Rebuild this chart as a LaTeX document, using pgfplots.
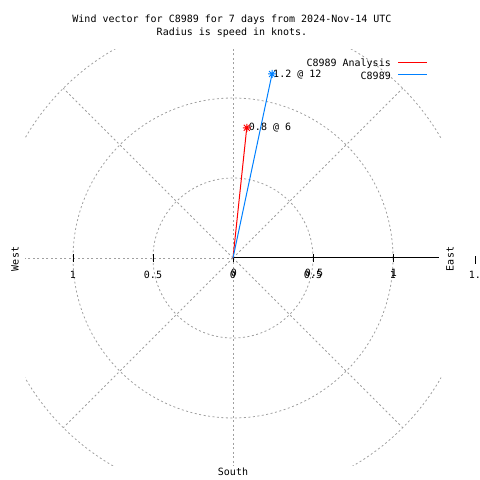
\documentclass[border=0pt]{standalone}
\usepackage{fontspec}
\setmainfont{DejaVu Sans Mono}
\usepackage{pgfplots}
\pgfplotsset{compat=1.18}
\definecolor{gridgray}{RGB}{160,160,160}
\definecolor{gpblue}{RGB}{0,128,255}
\definecolor{gpred}{RGB}{255,0,0}
\tikzset{gpgrid/.style={gridgray, line width=0.8pt, dash pattern=on 2pt off 2.5pt}}
\pgfdeclareplotmark{gpstar}{%
  \pgfpathmoveto{\pgfqpoint{-\pgfplotmarksize}{0pt}}%
  \pgfpathlineto{\pgfqpoint{\pgfplotmarksize}{0pt}}%
  \pgfpathmoveto{\pgfqpoint{0pt}{-\pgfplotmarksize}}%
  \pgfpathlineto{\pgfqpoint{0pt}{\pgfplotmarksize}}%
  \pgfpathmoveto{\pgfqpoint{-0.75\pgfplotmarksize}{-0.75\pgfplotmarksize}}%
  \pgfpathlineto{\pgfqpoint{0.75\pgfplotmarksize}{0.75\pgfplotmarksize}}%
  \pgfpathmoveto{\pgfqpoint{-0.75\pgfplotmarksize}{0.75\pgfplotmarksize}}%
  \pgfpathlineto{\pgfqpoint{0.75\pgfplotmarksize}{-0.75\pgfplotmarksize}}%
  \pgfusepathqstroke}
\begin{document}
\fontsize{10}{12}\selectfont
\begin{tikzpicture}[x=1pt,y=1pt]
\path[use as bounding box] (0,0) rectangle (480,480);
\begin{axis}[at={(25pt,14pt)}, anchor=south west, scale only axis,
  width=416pt, height=416pt,
  xmin=-1.3, xmax=1.3, ymin=-1.3, ymax=1.3,
  hide axis, clip=false]
% polar grid
\begin{scope}
\clip (axis cs:-1.3,-1.3) rectangle (axis cs:1.3,1.3);
\draw[gpgrid] (axis cs:0,0) circle[radius=0.5];
\draw[gpgrid] (axis cs:0,0) circle[radius=1];
\draw[gpgrid] (axis cs:0,0) circle[radius=1.5];
\draw[gpgrid] (axis cs:0,0) -- (axis cs:1.0607,1.0607);
\draw[gpgrid] (axis cs:0,0) -- (axis cs:0,1.5);
\draw[gpgrid] (axis cs:0,0) -- (axis cs:-1.0607,1.0607);
\draw[gpgrid] (axis cs:0,0) -- (axis cs:-1.5,0);
\draw[gpgrid] (axis cs:0,0) -- (axis cs:-1.0607,-1.0607);
\draw[gpgrid] (axis cs:0,0) -- (axis cs:0,-1.5);
\draw[gpgrid] (axis cs:0,0) -- (axis cs:1.0607,-1.0607);
\end{scope}
% r axis
\draw[black, line width=1pt] (axis cs:0,0) -- (axis cs:1.29,0);
\draw[black, line width=0.8pt] ([yshift=-4pt]axis cs:-1,0) -- ([yshift=4pt]axis cs:-1,0);
\draw[black, line width=0.8pt] ([yshift=-4pt]axis cs:-0.5,0) -- ([yshift=4pt]axis cs:-0.5,0);
\draw[black, line width=0.8pt] ([yshift=-4pt]axis cs:0,0) -- ([yshift=4pt]axis cs:0,0);
\draw[black, line width=0.8pt] ([yshift=-4pt]axis cs:0.5,0) -- ([yshift=4pt]axis cs:0.5,0);
\draw[black, line width=0.8pt] ([yshift=-4pt]axis cs:1,0) -- ([yshift=4pt]axis cs:1,0);
\draw[black, line width=0.8pt] ([xshift=2pt,yshift=-6pt]axis cs:1.5,0) -- ([xshift=2pt,yshift=2pt]axis cs:1.5,0);
% tick labels
\node[anchor=base, inner sep=0pt] at ([yshift=-21pt]axis cs:-1,0) {1};
\node[anchor=base, inner sep=0pt] at ([yshift=-21pt]axis cs:-0.5,0) {0.5};
\node[anchor=base, inner sep=0pt] at ([yshift=-21pt]axis cs:0,0) {0};
\node[anchor=base, inner sep=0pt] at ([yshift=-21pt]axis cs:0.5,0) {0.5};
\node[anchor=base, inner sep=0pt] at ([yshift=-21pt]axis cs:1,0) {1};
\node[anchor=base, inner sep=0pt] at ([xshift=1pt,yshift=-19pt]axis cs:0,0) {0};
\node[anchor=base, inner sep=0pt] at ([xshift=1pt,yshift=-19pt]axis cs:0.5,0) {0.5};
\node[anchor=base, inner sep=0pt] at ([xshift=1pt,yshift=-19pt]axis cs:1,0) {1};
\node[anchor=base, inner sep=0pt] at ([xshift=5pt,yshift=-21pt]axis cs:1.5,0) {1.5};
% data
\addplot[gpred, line width=1pt, mark=gpstar, mark indices={2}, mark size=4pt,
  mark options={solid, line width=1pt}] coordinates {(0,0) (0.086,0.814)};
\addplot[gpblue, line width=1pt, mark=gpstar, mark indices={2}, mark size=4pt,
  mark options={solid, line width=1pt}] coordinates {(0,0) (0.244,1.150)};
\node[anchor=base west, inner sep=0pt] at ([xshift=2pt,yshift=-3pt]axis cs:0.086,0.814) {0.8 @ 6};
\node[anchor=base west, inner sep=0pt] at ([xshift=1pt,yshift=-4pt]axis cs:0.244,1.150) {1.2 @ 12};
\end{axis}
% titles and labels
\node[anchor=base, inner sep=0pt] at (232,457) {Wind vector for C8989 for 7 days from 2024-Nov-14 UTC};
\node[anchor=base, inner sep=0pt] at (232,444) {Radius is speed in knots.};
\node[anchor=base east, inner sep=0pt] at (391,413) {C8989 Analysis};
\draw[gpred, line width=1pt] (398,417.5) -- (427,417.5);
\node[anchor=base east, inner sep=0pt] at (391,400) {C8989};
\draw[gpblue, line width=1pt] (398,405) -- (427,405);
\node[anchor=base, inner sep=0pt] at (233,5) {South};
\node[rotate=90, inner sep=0pt] at (15,221) {West};
\node[rotate=90, inner sep=0pt] at (450,221) {East};
\end{tikzpicture}
\end{document}
